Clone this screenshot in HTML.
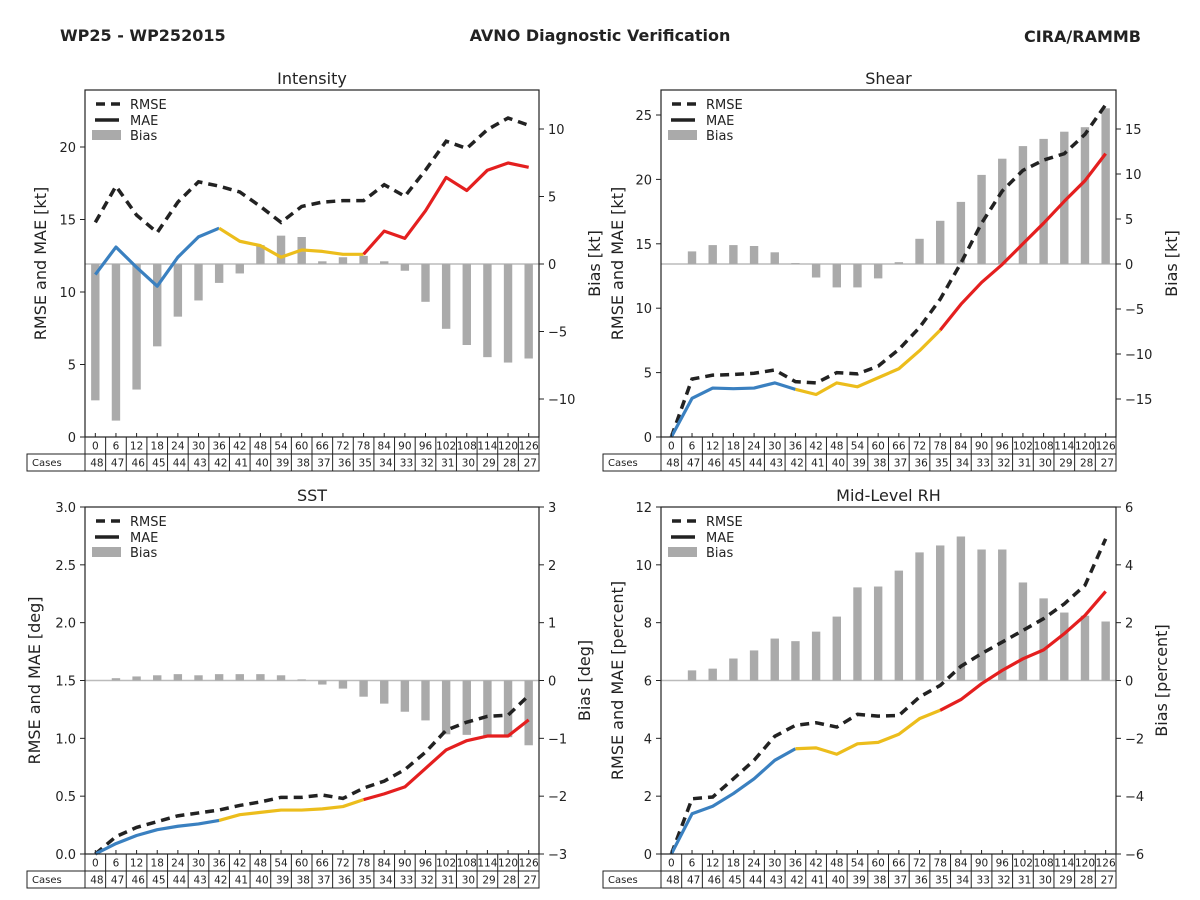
<!DOCTYPE html>
<html><head><meta charset="utf-8"><style>
html,body{margin:0;padding:0;background:#fff;}
svg{display:block;font-family:"DejaVu Sans","Liberation Sans",sans-serif;}
</style></head><body>
<svg id="chart" width="1200" height="900" viewBox="0 0 1200 900" xmlns="http://www.w3.org/2000/svg">
<rect x="0" y="0" width="1200" height="900" fill="#fff"/>
<text x="60" y="41" font-size="16" font-weight="bold" fill="#222">WP25 - WP252015</text>
<text x="600" y="41" font-size="16" font-weight="bold" fill="#222" text-anchor="middle">AVNO Diagnostic Verification</text>
<text x="1141" y="42" font-size="16" font-weight="bold" fill="#222" text-anchor="end">CIRA/RAMMB</text>
</svg>
<script>
const leads=[0,6,12,18,24,30,36,42,48,54,60,66,72,78,84,90,96,102,108,114,120,126];
const cases=[48,47,46,45,44,43,42,41,40,39,38,37,36,35,34,33,32,31,30,29,28,27];

const intMae=[11.2,13.1,11.7,10.4,12.4,13.8,14.4,13.5,13.2,12.4,12.9,12.8,12.6,12.6,14.2,13.7,15.6,17.9,17.0,18.4,18.9,18.6];
const intRmse=[14.8,17.3,15.3,14.1,16.2,17.6,17.3,16.9,15.9,14.8,15.9,16.2,16.3,16.3,17.4,16.6,18.4,20.4,19.9,21.2,22.0,21.5];
const intBias=[-10.1,-11.6,-9.3,-6.1,-3.9,-2.7,-1.4,-0.7,1.4,2.1,2.0,0.2,0.5,0.6,0.2,-0.5,-2.8,-4.8,-6.0,-6.9,-7.3,-7.0];

const shrMae=[0,3.0,3.8,3.75,3.8,4.2,3.7,3.3,4.2,3.9,4.6,5.3,6.7,8.3,10.3,12.0,13.4,15.0,16.6,18.3,19.9,22.0];
const shrRmse=[0,4.5,4.8,4.85,4.95,5.2,4.3,4.2,5.0,4.9,5.5,6.8,8.5,10.7,13.5,16.6,19.1,20.7,21.5,22.0,23.5,25.8];
const shrBias=[0,1.4,2.1,2.1,2.0,1.3,0.1,-1.5,-2.6,-2.6,-1.6,0.2,2.8,4.8,6.9,9.9,11.7,13.1,13.9,14.7,15.2,17.3];

const sstMae=[0,0.09,0.16,0.21,0.24,0.26,0.29,0.34,0.36,0.38,0.38,0.39,0.41,0.47,0.52,0.58,0.74,0.90,0.98,1.02,1.02,1.16];
const sstRmse=[0,0.15,0.23,0.28,0.33,0.355,0.38,0.42,0.45,0.49,0.49,0.51,0.48,0.57,0.63,0.73,0.88,1.07,1.14,1.19,1.2,1.37];
const sstBias=[0,0.04,0.07,0.09,0.11,0.09,0.11,0.11,0.11,0.09,0.02,-0.07,-0.14,-0.28,-0.40,-0.54,-0.69,-0.93,-0.94,-0.97,-0.98,-1.12];

const rhMae=[0,1.39,1.65,2.09,2.6,3.24,3.64,3.67,3.45,3.81,3.86,4.14,4.68,4.97,5.34,5.89,6.35,6.75,7.06,7.62,8.25,9.08];
const rhRmse=[0,1.91,1.97,2.6,3.24,4.07,4.45,4.54,4.39,4.83,4.77,4.79,5.43,5.83,6.49,6.93,7.33,7.73,8.14,8.65,9.29,10.9];
const rhBias=[0,0.35,0.41,0.76,1.04,1.45,1.36,1.69,2.21,3.22,3.25,3.8,4.43,4.67,4.98,4.53,4.53,3.39,2.84,2.35,2.24,2.04];

const intLTicks=[0,5,10,15,20], intRTicks=[-10,-5,0,5,10];
const shrLTicks=[0,5,10,15,20,25], shrRTicks=[-15,-10,-5,0,5,10,15];
const sstLTicks=[0,0.5,1.0,1.5,2.0,2.5,3.0], sstRTicks=[-3,-2,-1,0,1,2,3];
const rhLTicks=[0,2,4,6,8,10,12], rhRTicks=[-6,-4,-2,0,2,4,6];

const NS="http://www.w3.org/2000/svg";
const svg=document.getElementById('chart');
function mk(tag,attrs,parent){const e=document.createElementNS(NS,tag);for(const k in attrs)e.setAttribute(k,attrs[k]);(parent||svg).appendChild(e);return e;}

function panel(o){
  const g=mk('g',{});
  
  
  const W=o.x1-o.x0, n=leads.length, cw=W/n;
  const X=i=>o.x0+(i+0.5)*cw;
  const YL=v=>o.y1-(v-o.lmin)/(o.lmax-o.lmin)*(o.y1-o.y0);
  const YR=v=>o.y1-(v-o.rmin)/(o.rmax-o.rmin)*(o.y1-o.y0);
  const t=mk('text',{x:(o.x0+o.x1)/2,y:o.y0-6,'font-size':16,'text-anchor':'middle',fill:'#222'},g);
  t.textContent=o.title;
  
  
  const z=mk('line',{x1:o.x0,x2:o.x1,y1:YR(0),y2:YR(0),stroke:'#bbb','stroke-width':1.5},g);
  
  
  o.bias.forEach((v,i)=>{
    const y0=YR(0),y=YR(v);
    const b=mk('rect',{x:X(i)-4.2,width:8.4,y:Math.min(y0,y),height:Math.abs(y-y0),fill:'#aaa'},g);
    
    
  });
  const rp=o.rmse.map((v,i)=>X(i)+','+YL(v)).join(' ');
  const r=mk('polyline',{points:rp,fill:'none',stroke:'#222','stroke-width':3.5,'stroke-dasharray':'9 6'},g);
  
  
  const segs=[[0,6,'#3a80c0','blue'],[6,13,'#ecbd1c','yellow'],[13,21,'#e41f1f','red']];
  segs.forEach(s=>{
    const pts=[];for(let i=s[0];i<=s[1];i++)pts.push(X(i)+','+YL(o.mae[i]));
    const m=mk('polyline',{points:pts.join(' '),fill:'none',stroke:s[2],'stroke-width':3.2,'stroke-linejoin':'round'},g);
    
    
  });
  const f=mk('rect',{x:o.x0,y:o.y0,width:W,height:o.y1-o.y0,fill:'none',stroke:'#222','stroke-width':1.2},g);
  
  
  for(let i=0;i<n;i++) mk('line',{x1:X(i),x2:X(i),y1:o.y1,y2:o.y1-4,stroke:'#222'},g);
  o.lt.forEach(v=>{
    const y=YL(v);
    mk('line',{x1:o.x0-5,x2:o.x0,y1:y,y2:y,stroke:'#222'},g);
    const tx=mk('text',{x:o.x0-9,y:y+5,'font-size':13,'text-anchor':'end',fill:'#222'},g);
    tx.textContent=o.dec?v.toFixed(1):String(v);
    
    
  });
  o.rt.forEach(v=>{
    const y=YR(v);
    mk('line',{x1:o.x1,x2:o.x1+5,y1:y,y2:y,stroke:'#222'},g);
    const tx=mk('text',{x:o.x1+9,y:y+5,'font-size':13,'text-anchor':'start',fill:'#222'},g);
    tx.textContent=v<0?'\u2212'+Math.abs(v):String(v);
    
    
  });
  const ym=(o.y0+o.y1)/2;
  const lt=mk('text',{x:o.ltx,y:ym,'font-size':16,'text-anchor':'middle',fill:'#222',transform:'rotate(-90 '+o.ltx+' '+ym+')'},g);
  lt.textContent=o.ltitle;
  
  
  const rt=mk('text',{x:o.rtx,y:ym,'font-size':16,'text-anchor':'middle',fill:'#222',transform:'rotate(-90 '+o.rtx+' '+ym+')'},g);
  rt.textContent=o.rtitle;
  
  
  const lg=mk('g',{},g);
  
  
  const lx=o.x0+10, ly=o.y0+14;
  mk('line',{x1:lx+1,x2:lx+26,y1:ly,y2:ly,stroke:'#222','stroke-width':3.5,'stroke-dasharray':'9 6'},lg);
  mk('line',{x1:lx,x2:lx+24,y1:ly+16,y2:ly+16,stroke:'#222','stroke-width':3.5},lg);
  mk('rect',{x:lx-3,y:ly+26,width:29,height:10,fill:'#aaa'},lg);
  [['RMSE',0],['MAE',16],['Bias',31]].forEach(a=>{
    const tt=mk('text',{x:lx+35,y:ly+a[1]+5,'font-size':13,fill:'#222'},lg);
    tt.textContent=a[0];
    
    
  });
  const tb=mk('g',{},g);
  
  
  const r1=o.y1, r2=o.y1+17, r3=o.y1+34;
  mk('rect',{x:o.x0-58,y:r2,width:58+W,height:17,fill:'none',stroke:'#222'},tb);
  mk('rect',{x:o.x0,y:r1,width:W,height:17,fill:'none',stroke:'#222'},tb);
  const cl=mk('text',{x:o.x0-53,y:r2+12,'font-size':10,fill:'#222'},tb);
  cl.textContent='Cases';
  
  
  for(let i=0;i<n;i++){
    const cx=o.x0+i*cw;
    mk('line',{x1:cx,x2:cx,y1:r1,y2:r3,stroke:'#222'},tb);
    const a=mk('text',{x:X(i),y:r1+12.5,'font-size':10.5,'text-anchor':'middle',fill:'#222'},tb);
    a.textContent=leads[i];
    
    
    const b=mk('text',{x:cx+cw-2,y:r2+12.5,'font-size':10.5,'text-anchor':'end',fill:'#222'},tb);
    b.textContent=cases[i];
    
    
  }
  mk('line',{x1:o.x1,x2:o.x1,y1:r1,y2:r3,stroke:'#222'},tb);
}

panel({key:'intensity',title:'Intensity',x0:85,x1:539,y0:90,y1:437,lmin:0,lmax:347/14.5,rmin:-173/13.5,rmax:174/13.5,
  lt:intLTicks,rt:intRTicks,mae:intMae,rmse:intRmse,bias:intBias,ltitle:'RMSE and MAE [kt]',rtitle:'Bias [kt]',ltx:46,rtx:600,dec:false});
panel({key:'shear',title:'Shear',x0:661,x1:1116,y0:90,y1:437,lmin:0,lmax:347/12.88,rmin:-173/9,rmax:174/9,
  lt:shrLTicks,rt:shrRTicks,mae:shrMae,rmse:shrRmse,bias:shrBias,ltitle:'RMSE and MAE [kt]',rtitle:'Bias [kt]',ltx:623,rtx:1177,dec:false});
panel({key:'sst',title:'SST',x0:85,x1:539,y0:507,y1:854,lmin:0,lmax:3,rmin:-3,rmax:3,
  lt:sstLTicks,rt:sstRTicks,mae:sstMae,rmse:sstRmse,bias:sstBias,ltitle:'RMSE and MAE [deg]',rtitle:'Bias [deg]',ltx:40,rtx:590,dec:true});
panel({key:'midlevel-rh',title:'Mid-Level RH',x0:661,x1:1116,y0:507,y1:854,lmin:0,lmax:12,rmin:-6,rmax:6,
  lt:rhLTicks,rt:rhRTicks,mae:rhMae,rmse:rhRmse,bias:rhBias,ltitle:'RMSE and MAE [percent]',rtitle:'Bias [percent]',ltx:623,rtx:1167,dec:false});
</script>
</body></html>
